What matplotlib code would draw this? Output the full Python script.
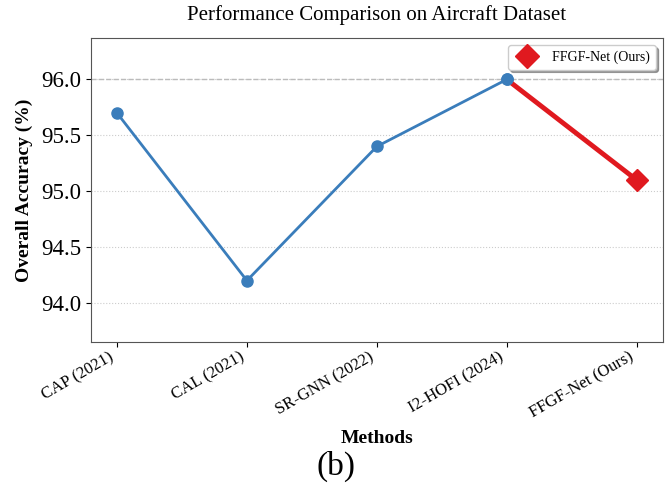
import matplotlib.pyplot as plt
import numpy as np

plt.rcParams['font.family'] = ['Liberation Serif', 'DejaVu Serif']

methods = ['CAP (2021)', 'CAL (2021)', 'SR-GNN (2022)', 'I2-HOFI (2024)', 'FFGF-Net (Ours)']
accuracy = [95.7, 94.2, 95.4, 96.0, 95.1]

x = np.arange(len(methods))
blue = '#3a7dbb'
red = '#e0191f'

fig = plt.figure(figsize=(6.71, 4.88), dpi=100)
ax = fig.add_axes([0.1356, 0.299, 0.852, 0.623])

# previous methods in blue, our result highlighted in red
ax.plot(x[:4], accuracy[:4], color=blue, linewidth=2, marker='o', markersize=8, zorder=3)
ax.plot(x[3:], accuracy[3:], color=red, linewidth=3.5, zorder=3)
ax.plot(x[3], accuracy[3], 'o', color=blue, markersize=8, zorder=4)
ax.plot(x[4], accuracy[4], 'D', color=red, markersize=11, zorder=5, label='FFGF-Net (Ours)')

ax.axhline(max(accuracy[:4]), color='#bbbbbb', linestyle='--', linewidth=1, zorder=1)
ax.grid(axis='y', linestyle=':', color='#cccccc', linewidth=0.8)
ax.set_axisbelow(True)

ax.set_ylim(93.65, 96.37)
ax.set_yticks([94.0, 94.5, 95.0, 95.5, 96.0])
ax.set_yticklabels(['94.0', '94.5', '95.0', '95.5', '96.0'], fontsize=16.5)
ax.set_xticks(x)
ax.set_xticklabels(methods, rotation=30, ha='right', fontsize=12)
ax.tick_params(axis='x', pad=1.5)

for s in ax.spines.values():
    s.set_color('#555555')

ax.set_title('Performance Comparison on Aircraft Dataset', fontsize=15, pad=13)
ax.set_ylabel('Overall Accuracy (%)', fontsize=14, fontweight='bold', labelpad=6)
ax.set_xlabel('Methods', fontsize=14, fontweight='bold', labelpad=6)
fig.text(0.5, 0.045, '(b)', ha='center', va='center', fontsize=24)

ax.legend(loc='upper right', fontsize=10, frameon=True, shadow=True, fancybox=True, markerscale=1.1)

plt.savefig('out.png')
